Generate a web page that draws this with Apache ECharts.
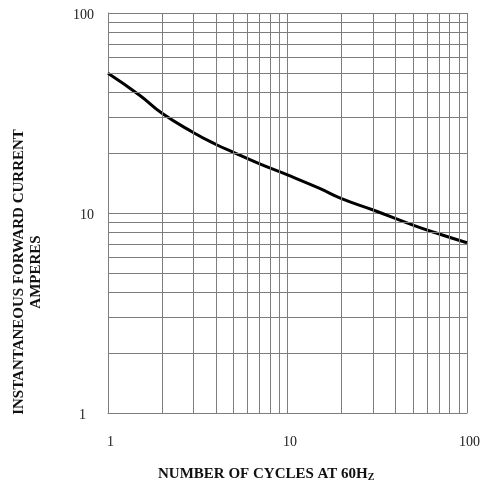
<!DOCTYPE html>
<html>
<head>
<meta charset="utf-8">
<script src="https://cdn.jsdelivr.net/npm/echarts@6/dist/echarts.min.js"></script>
<style>
html,body{margin:0;padding:0;background:#fff;}
#chart{width:483px;height:489px;}
</style>
</head>
<body>
<div id="chart"></div>
<script>
// Data
var cycles = [1, 1.5, 2, 3, 4, 5, 7, 10, 15, 20, 30, 50, 70, 100];
var amperes = [50, 38.8, 31.5, 25.2, 22.0, 20.1, 17.6, 15.5, 13.3, 11.8, 10.35, 8.7, 7.85, 7.1];
var xMinorGrid = [2, 3, 4, 5, 6, 7, 8, 9, 20, 30, 40, 50, 60, 70, 80, 90];
var yMinorGrid = [2, 3, 4, 5, 6, 7, 8, 9, 20, 30, 40, 50, 60, 70, 80, 90];
var xTitle = 'NUMBER OF CYCLES AT 60H';
var xTitleSub = 'Z';
var yTitleLines = ['INSTANTANEOUS FORWARD CURRENT', 'AMPERES'];

var chart = echarts.init(document.getElementById('chart'), null, {renderer: 'canvas'});
var gridColor = '#7d7d7d';
var font = '"Liberation Serif", "DejaVu Serif", serif';

var minorLines = [];
xMinorGrid.forEach(function (v) { minorLines.push({xAxis: v}); });
yMinorGrid.forEach(function (v) { minorLines.push({yAxis: v}); });

var option = {
  backgroundColor: '#ffffff',
  animation: false,
  grid: {left: 108, right: 16, top: 13, bottom: 76, containLabel: false},
  xAxis: {
    type: 'log', logBase: 10, min: 1, max: 100,
    axisLine: {show: true, lineStyle: {color: gridColor, width: 1}},
    axisTick: {show: false},
    splitLine: {show: true, lineStyle: {color: gridColor, width: 1}},
    axisLabel: {
      color: '#222', fontFamily: font, fontSize: 14, margin: 22,
      padding: [0, 0, 0, 5],
      showMinLabel: true, showMaxLabel: true
    }
  },
  yAxis: {
    type: 'log', logBase: 10, min: 1, max: 100,
    axisLine: {show: true, lineStyle: {color: gridColor, width: 1}},
    axisTick: {show: false},
    splitLine: {show: true, lineStyle: {color: gridColor, width: 1}},
    axisLabel: {
      color: '#222', fontFamily: font, fontSize: 14, margin: 14,
      padding: [5, 0, 0, 0],
      formatter: function (v) { return v === 1 ? '{one|1}' : String(v); },
      rich: {one: {fontFamily: font, fontSize: 14, color: '#222', padding: [0, 8, 0, 0]}}
    }
  },
  graphic: [
    {
      type: 'text', left: 158, top: 466,
      style: {
        text: '{a|' + xTitle + '}{s|' + xTitleSub + '}',
        rich: {
          a: {fontFamily: font, fontWeight: 'bold', fontSize: 15, fill: '#111', lineHeight: 18},
          s: {fontFamily: font, fontWeight: 'bold', fontSize: 10, fill: '#111', lineHeight: 18, padding: [6, 0, 0, 0]}
        }
      }
    },
    {
      type: 'text', x: 28, y: 272, rotation: Math.PI / 2,
      style: {
        text: yTitleLines.join('\n'),
        align: 'center', verticalAlign: 'middle',
        fontFamily: font, fontWeight: 'bold', fontSize: 15, lineHeight: 17, fill: '#111'
      }
    }
  ],
  series: [{
    type: 'line',
    data: cycles.map(function (c, i) { return [c, amperes[i]]; }),
    smooth: 0.5,
    showSymbol: false,
    lineStyle: {color: '#000', width: 3},
    markLine: {
      silent: true, symbol: 'none', animation: false,
      label: {show: false},
      lineStyle: {color: gridColor, width: 1, type: 'solid'},
      data: minorLines
    }
  }]
};
chart.setOption(option);
</script>
</body>
</html>
